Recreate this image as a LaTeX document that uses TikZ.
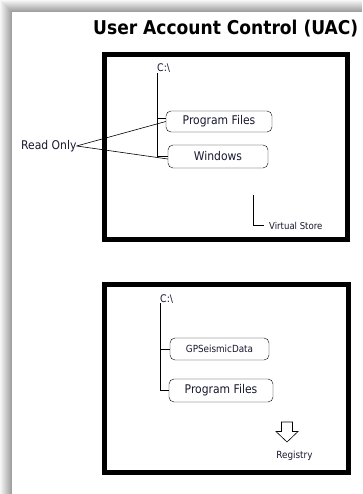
\documentclass[tikz,border=0pt]{standalone}
\usepackage{fontspec}
\setmainfont{DejaVu Sans Condensed}
\usetikzlibrary{positioning}

\definecolor{labelink}{RGB}{24,24,48}
\definecolor{edgegray}{RGB}{160,160,160}

\tikzset{
  folder/.style={draw, rounded corners=5pt, inner sep=0pt, font=\fontsize{12}{14}\selectfont, text=labelink},
  tag/.style={inner sep=0pt, text=labelink},
  frame/.style={line width=5pt},
  branch/.style={line width=0.6pt},
}

\begin{document}
\begin{tikzpicture}[x=1pt, y=-1pt]
      \pgfmathsetmacro{\pagew}{362};
      \pgfmathsetmacro{\pageh}{494};
      \pgfmathsetmacro{\edgew}{12};

      \useasboundingbox (0,0) rectangle (\pagew,\pageh);
      \fill[white] (0,0) rectangle (\pagew,\pageh);

      % drop shadow along the top and left page edges, one strip per pt
      \foreach \i in {0,...,11} {
        \pgfmathsetmacro{\tone}{100*(\i+1)/\edgew}
        \fill[edgegray!\tone!white] (\i,\i) rectangle (\i+1,\pageh);
        \fill[edgegray!\tone!white] (\i,\i) rectangle (\pagew,\i+1);
      }

      \node[tag, anchor=base west, font=\fontsize{19}{22}\bfseries, text=black] (title) at (93,35) {User Account Control (UAC)};

      % upper frame
      \draw[frame] (104,54.5) rectangle (347,239.5);

      \node[tag, anchor=base west, font=\fontsize{10.5}{12}\selectfont] (root1) at (157,72) {C:\textbackslash};
      \node[folder, minimum width=106pt, minimum height=21pt] (progfiles1) at (219,121.5) {Program Files};
      \node[folder, minimum width=100pt, minimum height=23pt] (windows) at (218,156.5) {Windows};

      \draw[branch] (root1.south west) |- (windows.west);
      \draw[branch] (root1.south west |- 0,118) -- (progfiles1.west |- 0,118);

      \node[tag, anchor=west, font=\fontsize{12}{14}\selectfont] (readonly) at (21,146) {Read Only};
      \draw[branch] (readonly.east) -- (progfiles1.west);
      \draw[branch] (readonly.east) -- ([yshift=-2.5pt]windows.west);

      \node[tag, anchor=west, font=\fontsize{9.5}{11}\selectfont] (vstore) at (269,225.5) {Virtual Store};
      \coordinate (vtop) at (253,195);
      \draw[branch] (vtop) |- ([xshift=-5pt]vstore.west);

      % lower frame
      \draw[frame] (104.5,284) rectangle (348,472.5);

      \node[tag, anchor=base west, font=\fontsize{10.5}{12}\selectfont] (root2) at (160,302) {C:\textbackslash};
      \node[folder, minimum width=99pt, minimum height=22pt, font=\fontsize{9.8}{12}\selectfont] (gpsdata) at (219.5,349) {GPSeismicData};
      \node[folder, minimum width=104pt, minimum height=23pt] (progfiles2) at (221,390.5) {Program Files};

      \draw[branch] (root2.south west) |- (progfiles2.west);
      \draw[branch] (root2.south west |- gpsdata.west) -- (gpsdata.west);

      % registry arrow
      \draw[line width=0.6pt, fill=white] (281.5,422) -- (292.5,422) -- (292.5,431.5) -- (298,431.5)
        -- (287,442) -- (276,431.5) -- (281.5,431.5) -- cycle;
      \node[tag, font=\fontsize{9.8}{12}\selectfont] (registry) at (294.5,456) {Registry};
\end{tikzpicture}
\end{document}
